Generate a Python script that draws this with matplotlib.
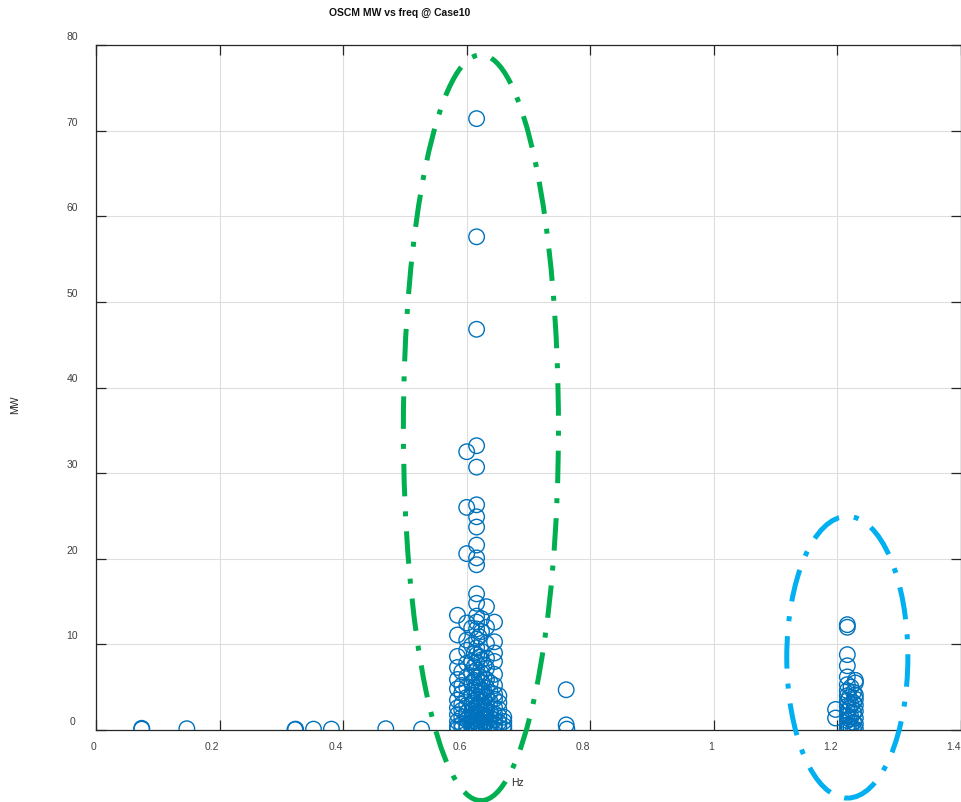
import matplotlib
matplotlib.use("Agg")
import matplotlib.pyplot as plt
from matplotlib.patches import Ellipse
from matplotlib.transforms import ScaledTranslation

plt.rcParams["font.family"] = ["Liberation Sans", "DejaVu Sans"]

# 저주파 쪽 단독 모드
low_freq = [0.074, 0.074, 0.147, 0.322, 0.323, 0.352, 0.381, 0.469, 0.527]
low_mw = [0.1, 0.2, 0.15, 0.05, 0.1, 0.1, 0.1, 0.15, 0.1]

# 0.6 Hz 부근 주 클러스터 (열 단위)
main_cols = [0.585, 0.592, 0.600, 0.608, 0.612, 0.616, 0.620, 0.624, 0.628,
             0.632, 0.638, 0.645, 0.652, 0.660]
main_mw = [
    [13.4, 11.1, 8.6, 7.3, 5.9, 4.8, 3.5, 2.6, 1.8, 1.0, 0.4, 0.1],
    [6.8, 5.2, 4.3, 3.0, 2.3, 1.5, 0.7, 0.2],
    [32.5, 26.0, 20.6, 12.5, 10.5, 9.3, 7.8, 6.2, 5.0, 3.8, 2.9, 2.0, 1.2, 0.6, 0.2],
    [11.9, 9.9, 8.0, 6.7, 5.5, 4.1, 3.1, 2.2, 1.5, 0.8, 0.3],
    [9.0, 7.4, 5.8, 4.7, 3.4, 2.5, 1.8, 1.1, 0.5, 0.0],
    [71.4, 57.6, 46.8, 33.2, 30.7, 26.3, 24.9, 23.7, 21.6, 20.1, 19.3, 15.9, 14.8,
     13.3, 12.6, 11.8, 10.6, 9.6, 8.8, 7.9, 7.0, 6.1, 5.3, 4.4, 3.6, 2.8, 2.1, 1.4,
     0.8, 0.3, 0.0],
    [10.9, 8.5, 6.3, 5.0, 3.9, 2.7, 1.9, 1.2, 0.6, 0.1],
    [13.0, 11.5, 9.2, 8.2, 6.6, 5.6, 4.6, 3.3, 2.4, 1.7, 1.0, 0.4],
    [7.6, 6.0, 4.5, 3.5, 2.6, 1.5, 0.8, 0.2],
    [14.4, 12.0, 10.1, 8.4, 7.2, 5.9, 4.9, 3.9, 3.0, 2.3, 1.6, 0.9, 0.2],
    [5.5, 4.4, 3.3, 2.1, 1.4, 0.7, 0.1],
    [12.6, 10.3, 9.0, 8.0, 6.5, 5.2, 4.2, 3.6, 2.6, 1.9, 1.2, 0.6, 0.1],
    [4.0, 3.2, 2.4, 1.6, 0.9, 0.3],
    [1.5, 1.0, 0.5, 0.1],
]

# 0.76 Hz 부근
mid_freq = [0.761, 0.761, 0.762]
mid_mw = [4.7, 0.6, 0.1]

# 1.2 Hz 부근 클러스터
high_cols = [1.197, 1.216, 1.219, 1.222, 1.226, 1.229]
high_mw = [
    [2.4, 1.4],
    [12.3, 12.0, 8.8, 7.5, 6.2, 5.3, 4.6, 4.0, 3.4, 2.8, 2.2, 1.7, 1.1, 0.6, 0.2, 0.0],
    [3.8, 2.5, 1.3, 0.4],
    [5.0, 3.0, 1.5, 0.3],
    [4.4, 3.2, 2.0, 0.9, 0.1],
    [5.8, 5.5, 4.1, 3.6, 2.9, 2.2, 1.4, 0.7, 0.1],
]

# 강조 타원 (중심 Hz, 중심 MW, 폭 Hz, 높이 MW)
green_ring = (0.623, 35.3, 0.251, 87.1)
blue_ring = (1.216, 8.5, 0.196, 32.9)

xticks = [0, 0.2, 0.4, 0.6, 0.8, 1.0, 1.2, 1.4]
xticklabels = ["0", "0.2", "0.4", "0.6", "0.8", "1", "1.2", "1.4"]
yticks = [0, 10, 20, 30, 40, 50, 60, 70, 80]

freq = list(low_freq) + list(mid_freq)
mw = list(low_mw) + list(mid_mw)
for cols, vals in ((main_cols, main_mw), (high_cols, high_mw)):
    for fx, ys in zip(cols, vals):
        freq += [fx] * len(ys)
        mw += ys

fig = plt.figure(figsize=(9.62, 8.02), dpi=100)
ax = fig.add_axes([96 / 962, 72 / 802, 865 / 962, 685 / 802])

ax.scatter(freq, mw, s=125, facecolors="none", edgecolors="#0072BD",
           linewidths=1.0, zorder=3)

ax.set_xlim(0, 1.4)
ax.set_ylim(0, 80)
ax.set_xticks(xticks)
ax.set_xticklabels(xticklabels)
ax.set_yticks(yticks)
ax.grid(True, color="#DEDEDE", linewidth=0.8)
ax.set_axisbelow(True)
for sp in ax.spines.values():
    sp.set_color("#262626")
    sp.set_linewidth(0.9)
ax.tick_params(direction="in", length=7, width=0.9, color="#262626",
               top=True, right=True, labelsize=7.5, labelcolor="#404040")
ax.tick_params(axis="x", pad=9)
ax.tick_params(axis="y", pad=20)

for lab in ax.get_xticklabels():
    lab.set_ha("right")
for lab in ax.get_yticklabels():
    lab.set_ha("center")
    lab.set_transform(lab.get_transform()
                      + ScaledTranslation(0.04, 0.09, fig.dpi_scale_trans))

# 점선 타원
for (cx, cy, w, h), col in ((green_ring, "#00B050"), (blue_ring, "#00B0F0")):
    ring = Ellipse((cx, cy), w, h, fill=False, edgecolor=col, linewidth=3.6,
                   linestyle=(0, (6.5, 3, 1, 3)), clip_on=False, zorder=4)
    ax.add_patch(ring)

fig.text(400 / 962, 1 - 13 / 802, "OSCM MW vs freq @ Case10", ha="center",
         va="center", fontsize=7.5, fontweight="bold", color="#111111")
fig.text(517 / 962, 1 - 783 / 802, "Hz", ha="center", va="center",
         fontsize=7.5, color="#262626")
fig.text(15 / 962, 1 - 405 / 802, "MW", ha="center", va="center",
         rotation=90, fontsize=7.5, color="#262626")

fig.savefig("out.png", dpi=100)
plt.close(fig)
